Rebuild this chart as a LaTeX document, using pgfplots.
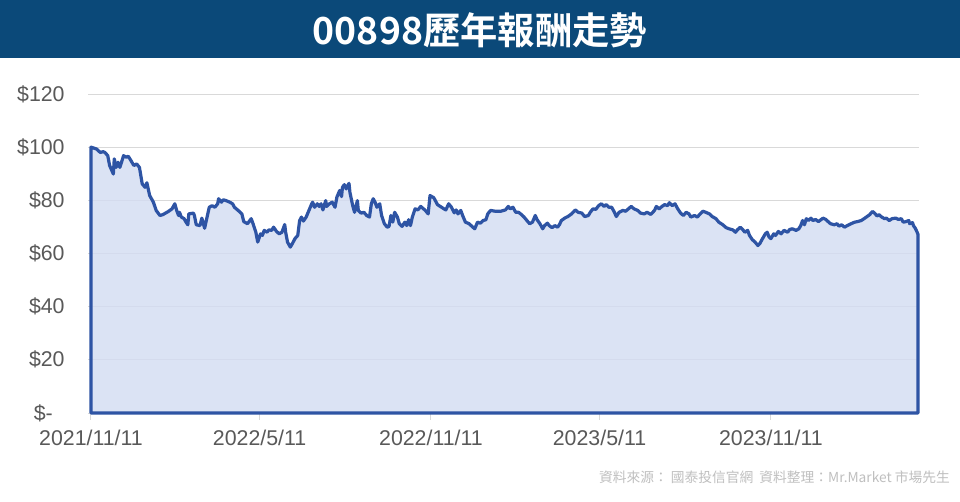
\documentclass[border=0pt]{standalone}
\usepackage{pgfplots}
\pgfplotsset{compat=1.18}
\usepackage{fontspec}
\setmainfont{Liberation Sans}
\newfontfamily\cjk{Noto Sans CJK TC}
\newfontfamily\cjkb{Noto Sans CJK TC Bold}
\definecolor{titlebar}{HTML}{0B4979}
\definecolor{lineblue}{HTML}{2E54A4}
\definecolor{fillblue}{HTML}{D3DCF2}
\definecolor{gridgray}{HTML}{D9D9D9}
\definecolor{labelgray}{HTML}{595959}
\definecolor{notegray}{HTML}{BFBFBF}
\begin{document}
\begin{tikzpicture}
\path[fill=white] (0,0) rectangle (720pt,-376.5pt);
\fill[titlebar] (0,0) rectangle (720pt,-43.5pt);
\node[text=white, inner sep=0pt, font=\cjkb\fontsize{28}{30}\selectfont] at (360pt,-22.5pt) {00898歷年報酬走勢};
\node[anchor=east, inner sep=0pt, text=notegray, font=\cjk\fontsize{10.3}{12}\selectfont] at (712.5pt,-357.75pt) {資料來源：\ 國泰投信官網\ \ 資料整理：Mr.Market\ 市場先生};
\begin{axis}[
  at={(66.15pt,-309.75pt)}, anchor=south west,
  scale only axis, width=623.1pt, height=239.25pt,
  xmin=-3, xmax=889, ymin=0, ymax=120,
  axis lines*=left,
  y axis line style={draw=none},
  x axis line style={draw=gridgray, line width=0.75pt},
  xtick={0,181,365,546,730},
  xticklabels={2021/11/11,2022/5/11,2022/11/11,2023/5/11,2023/11/11},
  ytick={0,20,40,60,80,100,120},
  yticklabels={\$-\phantom{0},\$20,\$40,\$60,\$80,\$100,\$120},
  tick align=outside,
  major tick length=5pt,
  xtick style={draw=gridgray, line width=0.75pt},
  ytick style={draw=none},
  ymajorgrids,
  grid style={draw=gridgray, line width=0.6pt},
  tick label style={text=labelgray, font=\fontsize{16}{18}\selectfont},
  yticklabel style={anchor=east, inner sep=0pt, xshift=-12.5pt},
  xticklabel style={anchor=north, inner sep=0pt, yshift=-7.5pt},
  clip=false,
]
\addplot[draw=lineblue, line width=2.4pt, line join=round, fill=fillblue, fill opacity=0.8, draw opacity=1] coordinates {
(0,100.0) (6,99.3) (10,98.0) (13,98.3) (15,98.0) (18,96.8) (20,93.1) (24,89.9) (25,95.6) (27,92.4) (29,94.3) (31,92.4) (35,96.8) (38,96.2) (40,96.6) (43,94.9) (46,93.1) (49,93.7) (52,92.4) (55,86.2) (58,84.9) (60,86.6) (63,81.8) (67,79.3) (70,76.2) (74,74.3) (77,74.6) (83,75.8) (87,76.8) (90,78.7) (92,76.2) (94,74.3) (95,75.5) (97,73.7) (100,73.1) (102,71.8) (104,70.8) (105,74.9) (110,75.2) (111,74.3) (113,70.8) (117,70.5) (119,73.3) (122,69.5) (125,74.3) (127,77.4) (130,78.0) (133,77.4) (136,78.7) (137,80.6) (140,79.3) (142,80.2) (145,79.9) (149,79.3) (152,78.7) (154,77.4) (158,76.2) (162,74.9) (164,72.0) (168,71.2) (172,73.1) (174,71.2) (177,68.0) (179,64.3) (182,67.4) (184,66.8) (186,68.7) (189,68.0) (191,68.9) (194,68.7) (196,69.9) (199,68.4) (202,67.4) (205,68.0) (208,70.9) (209,68.0) (211,64.3) (214,62.4) (216,63.6) (219,65.6) (222,66.8) (224,72.4) (226,73.7) (228,72.2) (231,73.7) (234,76.2) (237,78.7) (238,79.3) (240,77.4) (243,78.7) (245,77.7) (247,78.7) (249,76.4) (252,79.9) (253,77.7) (256,78.7) (259,79.3) (262,77.4) (264,81.2) (267,83.7) (269,81.4) (270,84.9) (272,85.9) (274,84.3) (277,86.4) (278,83.0) (281,78.0) (283,75.5) (286,79.9) (287,76.2) (290,75.2) (293,75.5) (296,74.3) (299,73.7) (301,78.7) (303,80.6) (305,79.3) (307,77.4) (310,78.7) (312,74.3) (315,71.2) (318,69.9) (320,70.2) (322,74.3) (324,71.8) (326,75.5) (329,73.7) (331,71.2) (334,70.2) (337,71.8) (339,70.5) (341,72.7) (343,70.5) (345,73.7) (348,76.8) (351,76.4) (354,77.7) (357,76.8) (359,76.2) (362,74.9) (364,81.8) (368,81.0) (372,78.4) (375,77.7) (379,76.8) (381,76.4) (384,78.7) (387,77.4) (390,75.3) (392,76.4) (394,74.9) (397,76.2) (399,74.3) (402,71.8) (406,71.2) (409,70.2) (412,69.3) (415,71.8) (418,71.4) (421,72.4) (424,72.7) (426,74.9) (429,76.2) (434,75.9) (440,75.9) (445,76.4) (448,77.7) (450,76.8) (453,77.4) (456,75.5) (459,75.5) (462,74.7) (465,73.7) (468,72.4) (471,71.2) (474,71.8) (477,74.3) (479,72.7) (482,71.2) (485,69.3) (487,70.5) (490,71.4) (492,70.5) (495,69.7) (498,70.5) (501,69.9) (503,70.9) (505,72.4) (509,73.4) (512,73.9) (516,74.9) (520,76.4) (523,75.5) (527,75.2) (530,73.9) (534,74.3) (536,75.5) (539,76.8) (542,76.6) (545,78.0) (548,78.7) (551,77.7) (553,78.4) (556,77.4) (559,77.4) (562,75.5) (564,73.9) (567,75.5) (571,76.2) (574,75.9) (577,76.8) (580,77.7) (583,76.8) (587,76.2) (590,75.2) (594,74.9) (597,75.5) (601,74.7) (605,76.2) (607,77.7) (610,76.8) (613,77.7) (616,78.4) (619,78.0) (621,79.1) (624,78.0) (627,78.7) (630,76.8) (633,75.2) (636,74.3) (639,75.5) (642,74.9) (644,73.7) (648,74.3) (651,73.7) (654,74.9) (657,75.9) (660,75.5) (664,74.9) (667,73.9) (671,73.1) (674,71.8) (678,70.9) (682,69.7) (685,69.3) (689,68.9) (692,68.0) (694,68.9) (697,69.9) (700,68.9) (702,68.0) (705,68.7) (707,66.8) (710,65.2) (713,64.3) (716,63.0) (718,63.7) (721,65.6) (724,67.4) (726,68.0) (728,66.2) (730,65.6) (733,67.4) (735,66.8) (738,68.3) (741,67.4) (744,68.7) (748,68.0) (750,69.0) (753,69.3) (757,68.7) (760,69.3) (762,70.5) (764,72.4) (766,70.8) (768,73.1) (770,72.4) (773,73.3) (775,72.4) (778,72.8) (781,72.0) (784,72.8) (786,73.3) (789,72.8) (792,71.8) (794,71.2) (798,70.8) (801,71.2) (803,70.3) (806,70.8) (809,69.9) (812,70.5) (816,71.2) (820,71.8) (823,72.0) (827,72.4) (830,73.1) (834,74.1) (836,74.6) (839,75.8) (841,75.3) (844,74.1) (846,74.6) (849,73.7) (852,73.1) (854,73.3) (857,72.4) (860,73.1) (864,73.3) (867,72.8) (870,73.1) (872,71.8) (875,72.0) (878,72.4) (879,71.2) (882,71.6) (883,70.5) (885,69.5) (887,68.0) (888,67.1)
} \closedcycle;
\end{axis}
\end{tikzpicture}
\end{document}
